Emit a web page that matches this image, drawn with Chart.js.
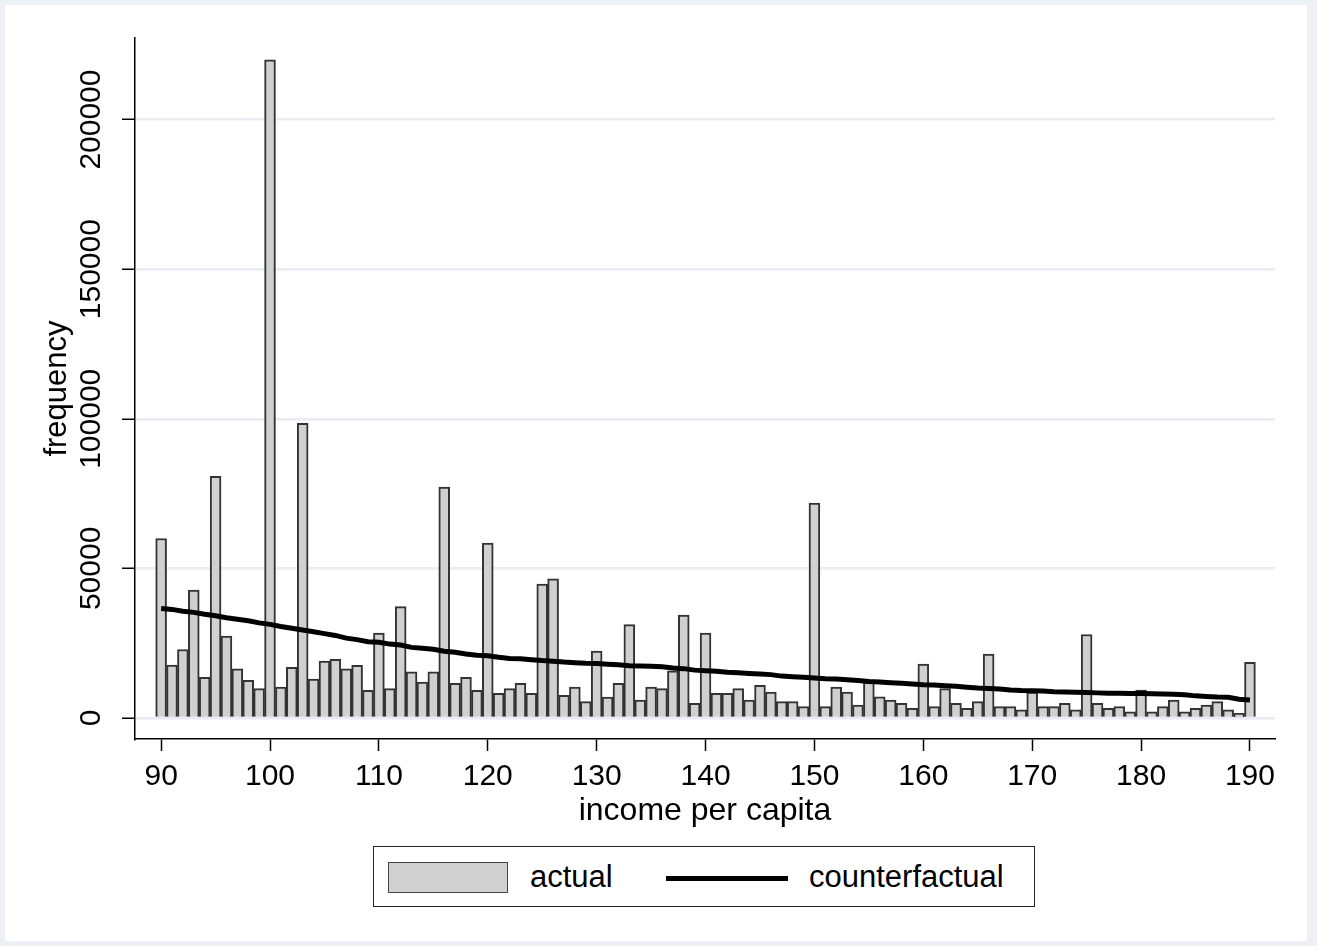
<!DOCTYPE html>
<html>
<head>
<meta charset="utf-8">
<script src="https://cdn.jsdelivr.net/npm/chart.js@4.4.1/dist/chart.umd.min.js"></script>
<style>
  body { margin: 0; background: #edf1f6; font-family: "Liberation Sans", Arial, sans-serif; }
  #frame { position: absolute; left: 5px; top: 5px; width: 1302px; height: 936px; background: #fff; }
  #wrap { position: absolute; left: 0; top: 0; width: 1317px; height: 946px; }
  #legend { position: absolute; left: 373px; top: 846px; width: 660px; height: 59px; border: 1.5px solid #222; background: #fff; }
  .patch { position: absolute; left: 14px; top: 15px; width: 118px; height: 29px; background: #d0d0d0; border: 1.5px solid #444; }
  .stroke { position: absolute; left: 292px; top: 29px; width: 122px; height: 5px; background: #000; }
  .lbl { position: absolute; top: 13px; font-size: 31px; line-height: 34px; color: #000; }
</style>
</head>
<body>
<div id="frame"></div>
<div id="wrap"><canvas id="incomeChart" width="1317" height="946"></canvas></div>
<div id="legend">
  <div class="patch"></div>
  <div class="lbl" style="left:156px">actual</div>
  <div class="stroke"></div>
  <div class="lbl" style="left:435px">counterfactual</div>
</div>
<script>
// thu nhập bình quân đầu người (trục x)
const incomes = [
  90, 91, 92, 93, 94, 95, 96, 97, 98, 99,
  100, 101, 102, 103, 104, 105, 106, 107, 108, 109,
  110, 111, 112, 113, 114, 115, 116, 117, 118, 119,
  120, 121, 122, 123, 124, 125, 126, 127, 128, 129,
  130, 131, 132, 133, 134, 135, 136, 137, 138, 139,
  140, 141, 142, 143, 144, 145, 146, 147, 148, 149,
  150, 151, 152, 153, 154, 155, 156, 157, 158, 159,
  160, 161, 162, 163, 164, 165, 166, 167, 168, 169,
  170, 171, 172, 173, 174, 175, 176, 177, 178, 179,
  180, 181, 182, 183, 184, 185, 186, 187, 188, 189,
  190
];

// tần suất thực tế
const actual = [
  60000, 17700, 22900, 42750, 13600, 80800, 27400, 16400, 12600, 9800,
  220000, 10350, 16900, 98500, 13000, 19000, 19600, 16400, 17600, 9250,
  28400, 9800, 37200, 15400, 12000, 15400, 77200, 11600, 13600, 9250,
  58500, 8250, 9800, 11600, 8250, 44750, 46500, 7600, 10350, 5450,
  22400, 7000, 11600, 31200, 6000, 10350, 9800, 15800, 34400, 4900,
  28400, 8250, 8250, 9800, 6000, 10900, 8700, 5450, 5450, 3800,
  71800, 3800, 10350, 8700, 4350, 12000, 7100, 6000, 4900, 3200,
  18000, 3800, 9800, 4900, 3200, 5450, 21400, 3800, 3800, 2700,
  8700, 3800, 3800, 4900, 2700, 27900, 4900, 3200, 3800, 2100,
  9300, 2100, 3800, 6000, 2100, 3200, 4350, 5450, 2700, 1550,
  18600
];

// đường phản thực (counterfactual)
const counterfactual = [
  36600, 36300, 35700, 35300, 34700, 34200, 33500, 33000, 32500, 31800,
  31300, 30600, 30000, 29400, 28800, 28200, 27600, 26700, 26200, 25500,
  25300, 24700, 24400, 23600, 23300, 23000, 22300, 22000, 21400, 21000,
  20800, 20300, 19900, 19800, 19500, 19200, 19000, 18700, 18500, 18300,
  18200, 18000, 17800, 17500, 17400, 17300, 17100, 16700, 16500, 16000,
  15800, 15600, 15300, 15100, 14900, 14700, 14500, 14000, 13800, 13600,
  13400, 13100, 13000, 12800, 12500, 12200, 12000, 11800, 11600, 11400,
  11100, 11000, 10800, 10600, 10300, 10000, 9900, 9700, 9400, 9200,
  9100, 9000, 8800, 8700, 8600, 8500, 8400, 8300, 8300, 8200,
  8200, 8100, 8000, 7900, 7800, 7400, 7200, 7000, 6900, 6300,
  6000
];

const xTicks = [90, 100, 110, 120, 130, 140, 150, 160, 170, 180, 190];
const yTicks = [0, 50000, 100000, 150000, 200000];

Chart.defaults.font.family = '"Liberation Sans", Arial, sans-serif';
Chart.defaults.color = '#000';

const ctx = document.getElementById('incomeChart').getContext('2d');
const incomeChart = new Chart(ctx, {
  data: {
    datasets: [{
      type: 'line',
      label: 'counterfactual',
      data: incomes.map((x, i) => ({ x: x, y: counterfactual[i] })),
      borderColor: '#000',
      borderWidth: 5,
      pointRadius: 0,
      tension: 0,
      order: 0
    }, {
      type: 'bar',
      label: 'actual',
      data: incomes.map((x, i) => ({ x: x, y: actual[i] })),
      backgroundColor: '#d0d0d0',
      borderColor: '#333',
      borderWidth: 2,
      borderSkipped: 'bottom',
      categoryPercentage: 1,
      barPercentage: 1,
      order: 1
    }]
  },
  options: {
    responsive: false,
    animation: false,
    layout: { padding: { top: 38, right: 42, bottom: 0, left: 0 } },
    plugins: {
      legend: { display: false },
      tooltip: { enabled: false }
    },
    scales: {
      x: {
        type: 'linear',
        min: 87.6,
        max: 192.3,
        offset: false,
        afterBuildTicks: function(scale) {
          scale.ticks = xTicks.map(v => ({ value: v }));
        },
        afterFit: function(scale) { scale.height = 207; },
        grid: { display: true, drawOnChartArea: false, offset: false, tickLength: 12, tickColor: '#000', tickWidth: 1.5 },
        border: { display: true, color: '#000', width: 1.5 },
        ticks: { font: { size: 30 }, padding: 8, autoSkip: false, maxRotation: 0, minRotation: 0 },
        title: {
          display: true,
          text: 'income per capita',
          font: { size: 32, lineHeight: 1 },
          padding: { top: 0, bottom: 119 }
        }
      },
      y: {
        type: 'linear',
        min: -7015,
        max: 227260,
        afterBuildTicks: function(scale) {
          scale.ticks = yTicks.map(v => ({ value: v }));
        },
        afterFit: function(scale) { scale.width = 135; },
        grid: { color: '#e8ecf3', lineWidth: 2.5, tickLength: 13, tickColor: '#000', tickWidth: 1.5 },
        border: { display: true, color: '#000', width: 1.5 },
        ticks: {
          font: { size: 30 },
          minRotation: 90,
          maxRotation: 90,
          crossAlign: 'center',
          padding: -20,
          autoSkip: false,
          callback: function(value) { return String(value); }
        },
        title: {
          display: true,
          text: 'frequency',
          font: { size: 31, lineHeight: 1 },
          padding: { top: 42, bottom: 0 }
        }
      }
    }
  }
});
</script>
</body>
</html>
